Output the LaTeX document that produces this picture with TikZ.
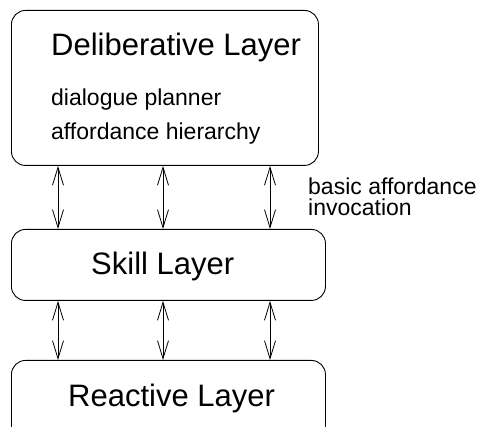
\documentclass[tikz,border=0pt]{standalone}
\usepackage{fontspec}
\setmainfont{Liberation Sans}
\usetikzlibrary{arrows.meta}

\tikzset{
  layer/.style={draw,line width=0.9pt,rounded corners=14pt,inner sep=0pt},
  bigtext/.style={anchor=base west,inner sep=0pt,font=\fontsize{31}{36}\selectfont},
  smalltext/.style={anchor=base west,inner sep=0pt,font=\fontsize{23}{27}\selectfont},
  link/.style={line width=0.8pt,{Straight Barb[length=18pt,width=11pt,line width=0.8pt]}-{Straight Barb[length=18pt,width=11pt,line width=0.8pt]}}
}

\begin{document}
\begin{tikzpicture}[x=1pt,y=-1pt]
\useasboundingbox (0,0) rectangle (479,427);

 \node[layer,minimum width=307pt,minimum height=155pt,anchor=north west] (delib) at (11,10) {};
 \node[layer,minimum width=314pt,minimum height=71pt,anchor=north west] (skill) at (11,229) {};
 \node[layer,minimum width=314pt,minimum height=90pt,anchor=north west] (react) at (11,360) {};

 \node[bigtext] (delibname) at (51,56) {Deliberative Layer};
 \node[smalltext] (planner) at (51,106) {dialogue planner};
 \node[smalltext] (hierarchy) at (51,140) {affordance hierarchy};
 \node[bigtext] (skillname) at (91,275) {Skill Layer};
 \node[bigtext] (reactname) at (68,406) {Reactive Layer};

 \node[smalltext,align=left,font=\fontsize{23}{21}\selectfont] (invoke) at (308,216) {basic affordance\\invocation};

 \foreach \dx in {47,152,259}{
   \draw[link] ([xshift=\dx pt]delib.south west) -- ([xshift=\dx pt]skill.north west);
   \draw[link] ([xshift=\dx pt]skill.south west) -- ([xshift=\dx pt]react.north west);
 }
 \end{tikzpicture}
\end{document}
